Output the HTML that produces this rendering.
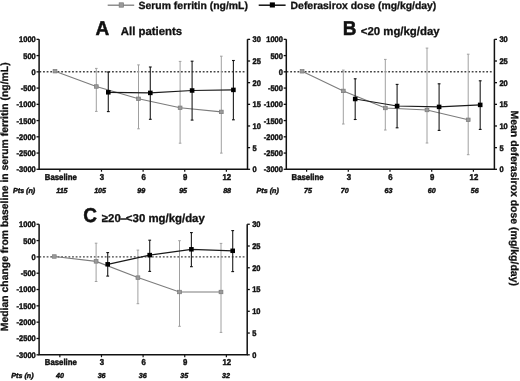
<!DOCTYPE html>
<html><head><meta charset="utf-8"><style>
html,body{margin:0;padding:0;background:#fff;}
svg{display:block;font-family:"Liberation Sans", sans-serif;will-change:transform;text-rendering:geometricPrecision;}
</style></head><body>
<svg width="520" height="381" viewBox="0 0 520 381">
<rect width="520" height="381" fill="#fff"/>
<g>
<line x1="36.5" y1="39.35" x2="39.1" y2="39.35" stroke="#111" stroke-width="1.3"/>
<text transform="translate(35.70,42.30) scale(0.92,1)" font-size="8.15" font-weight="bold" font-style="normal" text-anchor="end" fill="#111" stroke="#111" stroke-width="0.45">1000</text>
<line x1="36.5" y1="55.59" x2="39.1" y2="55.59" stroke="#111" stroke-width="1.3"/>
<text transform="translate(35.70,58.54) scale(0.92,1)" font-size="8.15" font-weight="bold" font-style="normal" text-anchor="end" fill="#111" stroke="#111" stroke-width="0.45">500</text>
<line x1="36.5" y1="71.84" x2="39.1" y2="71.84" stroke="#111" stroke-width="1.3"/>
<text transform="translate(35.70,74.79) scale(0.92,1)" font-size="8.15" font-weight="bold" font-style="normal" text-anchor="end" fill="#111" stroke="#111" stroke-width="0.45">0</text>
<line x1="36.5" y1="88.08" x2="39.1" y2="88.08" stroke="#111" stroke-width="1.3"/>
<text transform="translate(35.70,91.03) scale(0.92,1)" font-size="8.15" font-weight="bold" font-style="normal" text-anchor="end" fill="#111" stroke="#111" stroke-width="0.45">-500</text>
<line x1="36.5" y1="104.33" x2="39.1" y2="104.33" stroke="#111" stroke-width="1.3"/>
<text transform="translate(35.70,107.28) scale(0.92,1)" font-size="8.15" font-weight="bold" font-style="normal" text-anchor="end" fill="#111" stroke="#111" stroke-width="0.45">-1000</text>
<line x1="36.5" y1="120.57" x2="39.1" y2="120.57" stroke="#111" stroke-width="1.3"/>
<text transform="translate(35.70,123.52) scale(0.92,1)" font-size="8.15" font-weight="bold" font-style="normal" text-anchor="end" fill="#111" stroke="#111" stroke-width="0.45">-1500</text>
<line x1="36.5" y1="136.81" x2="39.1" y2="136.81" stroke="#111" stroke-width="1.3"/>
<text transform="translate(35.70,139.76) scale(0.92,1)" font-size="8.15" font-weight="bold" font-style="normal" text-anchor="end" fill="#111" stroke="#111" stroke-width="0.45">-2000</text>
<line x1="36.5" y1="153.06" x2="39.1" y2="153.06" stroke="#111" stroke-width="1.3"/>
<text transform="translate(35.70,156.01) scale(0.92,1)" font-size="8.15" font-weight="bold" font-style="normal" text-anchor="end" fill="#111" stroke="#111" stroke-width="0.45">-2500</text>
<line x1="36.5" y1="169.30" x2="39.1" y2="169.30" stroke="#111" stroke-width="1.3"/>
<text transform="translate(35.70,172.25) scale(0.92,1)" font-size="8.15" font-weight="bold" font-style="normal" text-anchor="end" fill="#111" stroke="#111" stroke-width="0.45">-3000</text>
<line x1="247.5" y1="39.35" x2="250.1" y2="39.35" stroke="#111" stroke-width="1.3"/>
<text transform="translate(252.50,42.30) scale(0.92,1)" font-size="8.15" font-weight="bold" font-style="normal" text-anchor="start" fill="#111" stroke="#111" stroke-width="0.45">30</text>
<line x1="247.5" y1="61.01" x2="250.1" y2="61.01" stroke="#111" stroke-width="1.3"/>
<text transform="translate(252.50,63.96) scale(0.92,1)" font-size="8.15" font-weight="bold" font-style="normal" text-anchor="start" fill="#111" stroke="#111" stroke-width="0.45">25</text>
<line x1="247.5" y1="82.67" x2="250.1" y2="82.67" stroke="#111" stroke-width="1.3"/>
<text transform="translate(252.50,85.62) scale(0.92,1)" font-size="8.15" font-weight="bold" font-style="normal" text-anchor="start" fill="#111" stroke="#111" stroke-width="0.45">20</text>
<line x1="247.5" y1="104.33" x2="250.1" y2="104.33" stroke="#111" stroke-width="1.3"/>
<text transform="translate(252.50,107.28) scale(0.92,1)" font-size="8.15" font-weight="bold" font-style="normal" text-anchor="start" fill="#111" stroke="#111" stroke-width="0.45">15</text>
<line x1="247.5" y1="125.98" x2="250.1" y2="125.98" stroke="#111" stroke-width="1.3"/>
<text transform="translate(252.50,128.93) scale(0.92,1)" font-size="8.15" font-weight="bold" font-style="normal" text-anchor="start" fill="#111" stroke="#111" stroke-width="0.45">10</text>
<line x1="247.5" y1="147.64" x2="250.1" y2="147.64" stroke="#111" stroke-width="1.3"/>
<text transform="translate(252.50,150.59) scale(0.92,1)" font-size="8.15" font-weight="bold" font-style="normal" text-anchor="start" fill="#111" stroke="#111" stroke-width="0.45">5</text>
<line x1="247.5" y1="169.30" x2="250.1" y2="169.30" stroke="#111" stroke-width="1.3"/>
<text transform="translate(252.50,172.25) scale(0.92,1)" font-size="8.15" font-weight="bold" font-style="normal" text-anchor="start" fill="#111" stroke="#111" stroke-width="0.45">0</text>
<line x1="59.85" y1="169.3" x2="59.85" y2="171.70000000000002" stroke="#111" stroke-width="1.2"/>
<line x1="101.48" y1="169.3" x2="101.48" y2="171.70000000000002" stroke="#111" stroke-width="1.2"/>
<line x1="143.11" y1="169.3" x2="143.11" y2="171.70000000000002" stroke="#111" stroke-width="1.2"/>
<line x1="184.74" y1="169.3" x2="184.74" y2="171.70000000000002" stroke="#111" stroke-width="1.2"/>
<line x1="226.37" y1="169.3" x2="226.37" y2="171.70000000000002" stroke="#111" stroke-width="1.2"/>
<text transform="translate(60.85,179.90) scale(0.915,1)" font-size="8.5" font-weight="bold" font-style="normal" text-anchor="middle" fill="#111" stroke="#111" stroke-width="0.45">Baseline</text>
<text transform="translate(101.98,179.90) scale(0.915,1)" font-size="8.5" font-weight="bold" font-style="normal" text-anchor="middle" fill="#111" stroke="#111" stroke-width="0.45">3</text>
<text transform="translate(143.61,179.90) scale(0.915,1)" font-size="8.5" font-weight="bold" font-style="normal" text-anchor="middle" fill="#111" stroke="#111" stroke-width="0.45">6</text>
<text transform="translate(185.24,179.90) scale(0.915,1)" font-size="8.5" font-weight="bold" font-style="normal" text-anchor="middle" fill="#111" stroke="#111" stroke-width="0.45">9</text>
<text transform="translate(226.87,179.90) scale(0.915,1)" font-size="8.5" font-weight="bold" font-style="normal" text-anchor="middle" fill="#111" stroke="#111" stroke-width="0.45">12</text>
<text transform="translate(13.00,192.80) scale(1.0,1)" font-size="7.15" font-weight="bold" font-style="italic" text-anchor="start" fill="#111" stroke="#111" stroke-width="0.45">Pts (n)</text>
<text transform="translate(61.90,192.80) scale(1.0,1)" font-size="7.15" font-weight="bold" font-style="italic" text-anchor="middle" fill="#111" stroke="#111" stroke-width="0.45">115</text>
<text transform="translate(100.10,192.80) scale(1.0,1)" font-size="7.15" font-weight="bold" font-style="italic" text-anchor="middle" fill="#111" stroke="#111" stroke-width="0.45">105</text>
<text transform="translate(141.30,192.80) scale(1.0,1)" font-size="7.15" font-weight="bold" font-style="italic" text-anchor="middle" fill="#111" stroke="#111" stroke-width="0.45">99</text>
<text transform="translate(183.10,192.80) scale(1.0,1)" font-size="7.15" font-weight="bold" font-style="italic" text-anchor="middle" fill="#111" stroke="#111" stroke-width="0.45">95</text>
<text transform="translate(227.10,192.80) scale(1.0,1)" font-size="7.15" font-weight="bold" font-style="italic" text-anchor="middle" fill="#111" stroke="#111" stroke-width="0.45">88</text>
<line x1="39.4" y1="71.8" x2="246.0" y2="71.8" stroke="#444" stroke-width="1.4" stroke-dasharray="1.8 1.83"/>
<polyline points="55.0,71.2 96.3,86.5 138.5,98.8 180.1,107.8 221.3,111.9" fill="none" stroke="#7c7c7c" stroke-width="1.1"/>
<line x1="96.3" y1="68.4" x2="96.3" y2="111.4" stroke="#a0a0a0" stroke-width="1.0"/>
<line x1="95.0" y1="68.4" x2="97.6" y2="68.4" stroke="#a0a0a0" stroke-width="1"/>
<line x1="95.0" y1="111.4" x2="97.6" y2="111.4" stroke="#a0a0a0" stroke-width="1"/>
<line x1="138.5" y1="64.9" x2="138.5" y2="128.8" stroke="#a0a0a0" stroke-width="1.0"/>
<line x1="137.2" y1="64.9" x2="139.8" y2="64.9" stroke="#a0a0a0" stroke-width="1"/>
<line x1="137.2" y1="128.8" x2="139.8" y2="128.8" stroke="#a0a0a0" stroke-width="1"/>
<line x1="180.1" y1="61.4" x2="180.1" y2="143.2" stroke="#a0a0a0" stroke-width="1.0"/>
<line x1="178.79999999999998" y1="61.4" x2="181.4" y2="61.4" stroke="#a0a0a0" stroke-width="1"/>
<line x1="178.79999999999998" y1="143.2" x2="181.4" y2="143.2" stroke="#a0a0a0" stroke-width="1"/>
<line x1="221.3" y1="56.2" x2="221.3" y2="153.1" stroke="#a0a0a0" stroke-width="1.0"/>
<line x1="220.0" y1="56.2" x2="222.60000000000002" y2="56.2" stroke="#a0a0a0" stroke-width="1"/>
<line x1="220.0" y1="153.1" x2="222.60000000000002" y2="153.1" stroke="#a0a0a0" stroke-width="1"/>
<rect x="53.1" y="69.45" width="3.8" height="3.5" fill="#9a9a9a" stroke="#7a7a7a" stroke-width="0.7"/>
<rect x="94.39999999999999" y="84.75" width="3.8" height="3.5" fill="#9a9a9a" stroke="#7a7a7a" stroke-width="0.7"/>
<rect x="136.6" y="97.05" width="3.8" height="3.5" fill="#9a9a9a" stroke="#7a7a7a" stroke-width="0.7"/>
<rect x="178.2" y="106.05" width="3.8" height="3.5" fill="#9a9a9a" stroke="#7a7a7a" stroke-width="0.7"/>
<rect x="219.4" y="110.15" width="3.8" height="3.5" fill="#9a9a9a" stroke="#7a7a7a" stroke-width="0.7"/>
<polyline points="108.3,92.3 150.3,92.9 192.1,90.5 233.4,89.9" fill="none" stroke="#1a1a1a" stroke-width="1.2"/>
<line x1="108.3" y1="72.0" x2="108.3" y2="111.6" stroke="#262626" stroke-width="1.15"/>
<line x1="106.89999999999999" y1="72.0" x2="109.7" y2="72.0" stroke="#111" stroke-width="1.1"/>
<line x1="106.89999999999999" y1="111.6" x2="109.7" y2="111.6" stroke="#111" stroke-width="1.1"/>
<line x1="150.3" y1="67.0" x2="150.3" y2="119.3" stroke="#262626" stroke-width="1.15"/>
<line x1="148.9" y1="67.0" x2="151.70000000000002" y2="67.0" stroke="#111" stroke-width="1.1"/>
<line x1="148.9" y1="119.3" x2="151.70000000000002" y2="119.3" stroke="#111" stroke-width="1.1"/>
<line x1="192.1" y1="61.2" x2="192.1" y2="120.1" stroke="#262626" stroke-width="1.15"/>
<line x1="190.7" y1="61.2" x2="193.5" y2="61.2" stroke="#111" stroke-width="1.1"/>
<line x1="190.7" y1="120.1" x2="193.5" y2="120.1" stroke="#111" stroke-width="1.1"/>
<line x1="233.4" y1="60.5" x2="233.4" y2="119.8" stroke="#262626" stroke-width="1.15"/>
<line x1="232.0" y1="60.5" x2="234.8" y2="60.5" stroke="#111" stroke-width="1.1"/>
<line x1="232.0" y1="119.8" x2="234.8" y2="119.8" stroke="#111" stroke-width="1.1"/>
<rect x="106.0" y="90.05" width="4.6" height="4.5" fill="#000"/>
<rect x="148.0" y="90.65" width="4.6" height="4.5" fill="#000"/>
<rect x="189.79999999999998" y="88.25" width="4.6" height="4.5" fill="#000"/>
<rect x="231.1" y="87.65" width="4.6" height="4.5" fill="#000"/>
<polyline points="39.1,39.35 39.1,169.3 247.5,169.3 247.5,39.35" fill="none" stroke="#111" stroke-width="1.5"/>
<text transform="translate(95.6,34.6) scale(0.95,1)" font-size="20" font-weight="bold" fill="#111" stroke="#111" stroke-width="0.5">A</text>
<text x="120.8" y="34.6" font-size="11.4" font-weight="bold" font-style="normal" text-anchor="start" fill="#111" stroke="#111" stroke-width="0.3" >All patients</text>
<line x1="283.7" y1="39.35" x2="286.3" y2="39.35" stroke="#111" stroke-width="1.3"/>
<text transform="translate(282.90,42.30) scale(0.92,1)" font-size="8.15" font-weight="bold" font-style="normal" text-anchor="end" fill="#111" stroke="#111" stroke-width="0.45">1000</text>
<line x1="283.7" y1="55.59" x2="286.3" y2="55.59" stroke="#111" stroke-width="1.3"/>
<text transform="translate(282.90,58.54) scale(0.92,1)" font-size="8.15" font-weight="bold" font-style="normal" text-anchor="end" fill="#111" stroke="#111" stroke-width="0.45">500</text>
<line x1="283.7" y1="71.84" x2="286.3" y2="71.84" stroke="#111" stroke-width="1.3"/>
<text transform="translate(282.90,74.79) scale(0.92,1)" font-size="8.15" font-weight="bold" font-style="normal" text-anchor="end" fill="#111" stroke="#111" stroke-width="0.45">0</text>
<line x1="283.7" y1="88.08" x2="286.3" y2="88.08" stroke="#111" stroke-width="1.3"/>
<text transform="translate(282.90,91.03) scale(0.92,1)" font-size="8.15" font-weight="bold" font-style="normal" text-anchor="end" fill="#111" stroke="#111" stroke-width="0.45">-500</text>
<line x1="283.7" y1="104.33" x2="286.3" y2="104.33" stroke="#111" stroke-width="1.3"/>
<text transform="translate(282.90,107.28) scale(0.92,1)" font-size="8.15" font-weight="bold" font-style="normal" text-anchor="end" fill="#111" stroke="#111" stroke-width="0.45">-1000</text>
<line x1="283.7" y1="120.57" x2="286.3" y2="120.57" stroke="#111" stroke-width="1.3"/>
<text transform="translate(282.90,123.52) scale(0.92,1)" font-size="8.15" font-weight="bold" font-style="normal" text-anchor="end" fill="#111" stroke="#111" stroke-width="0.45">-1500</text>
<line x1="283.7" y1="136.81" x2="286.3" y2="136.81" stroke="#111" stroke-width="1.3"/>
<text transform="translate(282.90,139.76) scale(0.92,1)" font-size="8.15" font-weight="bold" font-style="normal" text-anchor="end" fill="#111" stroke="#111" stroke-width="0.45">-2000</text>
<line x1="283.7" y1="153.06" x2="286.3" y2="153.06" stroke="#111" stroke-width="1.3"/>
<text transform="translate(282.90,156.01) scale(0.92,1)" font-size="8.15" font-weight="bold" font-style="normal" text-anchor="end" fill="#111" stroke="#111" stroke-width="0.45">-2500</text>
<line x1="283.7" y1="169.30" x2="286.3" y2="169.30" stroke="#111" stroke-width="1.3"/>
<text transform="translate(282.90,172.25) scale(0.92,1)" font-size="8.15" font-weight="bold" font-style="normal" text-anchor="end" fill="#111" stroke="#111" stroke-width="0.45">-3000</text>
<line x1="494.4" y1="39.35" x2="497.0" y2="39.35" stroke="#111" stroke-width="1.3"/>
<text transform="translate(499.40,42.30) scale(0.92,1)" font-size="8.15" font-weight="bold" font-style="normal" text-anchor="start" fill="#111" stroke="#111" stroke-width="0.45">30</text>
<line x1="494.4" y1="61.01" x2="497.0" y2="61.01" stroke="#111" stroke-width="1.3"/>
<text transform="translate(499.40,63.96) scale(0.92,1)" font-size="8.15" font-weight="bold" font-style="normal" text-anchor="start" fill="#111" stroke="#111" stroke-width="0.45">25</text>
<line x1="494.4" y1="82.67" x2="497.0" y2="82.67" stroke="#111" stroke-width="1.3"/>
<text transform="translate(499.40,85.62) scale(0.92,1)" font-size="8.15" font-weight="bold" font-style="normal" text-anchor="start" fill="#111" stroke="#111" stroke-width="0.45">20</text>
<line x1="494.4" y1="104.33" x2="497.0" y2="104.33" stroke="#111" stroke-width="1.3"/>
<text transform="translate(499.40,107.28) scale(0.92,1)" font-size="8.15" font-weight="bold" font-style="normal" text-anchor="start" fill="#111" stroke="#111" stroke-width="0.45">15</text>
<line x1="494.4" y1="125.98" x2="497.0" y2="125.98" stroke="#111" stroke-width="1.3"/>
<text transform="translate(499.40,128.93) scale(0.92,1)" font-size="8.15" font-weight="bold" font-style="normal" text-anchor="start" fill="#111" stroke="#111" stroke-width="0.45">10</text>
<line x1="494.4" y1="147.64" x2="497.0" y2="147.64" stroke="#111" stroke-width="1.3"/>
<text transform="translate(499.40,150.59) scale(0.92,1)" font-size="8.15" font-weight="bold" font-style="normal" text-anchor="start" fill="#111" stroke="#111" stroke-width="0.45">5</text>
<line x1="494.4" y1="169.30" x2="497.0" y2="169.30" stroke="#111" stroke-width="1.3"/>
<text transform="translate(499.40,172.25) scale(0.92,1)" font-size="8.15" font-weight="bold" font-style="normal" text-anchor="start" fill="#111" stroke="#111" stroke-width="0.45">0</text>
<line x1="306.6" y1="169.3" x2="306.6" y2="171.70000000000002" stroke="#111" stroke-width="1.2"/>
<line x1="348.3" y1="169.3" x2="348.3" y2="171.70000000000002" stroke="#111" stroke-width="1.2"/>
<line x1="390.0" y1="169.3" x2="390.0" y2="171.70000000000002" stroke="#111" stroke-width="1.2"/>
<line x1="431.7" y1="169.3" x2="431.7" y2="171.70000000000002" stroke="#111" stroke-width="1.2"/>
<line x1="473.4" y1="169.3" x2="473.4" y2="171.70000000000002" stroke="#111" stroke-width="1.2"/>
<text transform="translate(307.60,179.90) scale(0.915,1)" font-size="8.5" font-weight="bold" font-style="normal" text-anchor="middle" fill="#111" stroke="#111" stroke-width="0.45">Baseline</text>
<text transform="translate(348.80,179.90) scale(0.915,1)" font-size="8.5" font-weight="bold" font-style="normal" text-anchor="middle" fill="#111" stroke="#111" stroke-width="0.45">3</text>
<text transform="translate(390.50,179.90) scale(0.915,1)" font-size="8.5" font-weight="bold" font-style="normal" text-anchor="middle" fill="#111" stroke="#111" stroke-width="0.45">6</text>
<text transform="translate(432.20,179.90) scale(0.915,1)" font-size="8.5" font-weight="bold" font-style="normal" text-anchor="middle" fill="#111" stroke="#111" stroke-width="0.45">9</text>
<text transform="translate(473.90,179.90) scale(0.915,1)" font-size="8.5" font-weight="bold" font-style="normal" text-anchor="middle" fill="#111" stroke="#111" stroke-width="0.45">12</text>
<text transform="translate(256.60,192.80) scale(1.0,1)" font-size="7.15" font-weight="bold" font-style="italic" text-anchor="start" fill="#111" stroke="#111" stroke-width="0.45">Pts (n)</text>
<text transform="translate(307.90,192.80) scale(1.0,1)" font-size="7.15" font-weight="bold" font-style="italic" text-anchor="middle" fill="#111" stroke="#111" stroke-width="0.45">75</text>
<text transform="translate(344.70,192.80) scale(1.0,1)" font-size="7.15" font-weight="bold" font-style="italic" text-anchor="middle" fill="#111" stroke="#111" stroke-width="0.45">70</text>
<text transform="translate(388.40,192.80) scale(1.0,1)" font-size="7.15" font-weight="bold" font-style="italic" text-anchor="middle" fill="#111" stroke="#111" stroke-width="0.45">63</text>
<text transform="translate(431.70,192.80) scale(1.0,1)" font-size="7.15" font-weight="bold" font-style="italic" text-anchor="middle" fill="#111" stroke="#111" stroke-width="0.45">60</text>
<text transform="translate(474.80,192.80) scale(1.0,1)" font-size="7.15" font-weight="bold" font-style="italic" text-anchor="middle" fill="#111" stroke="#111" stroke-width="0.45">56</text>
<line x1="286.6" y1="71.8" x2="492.9" y2="71.8" stroke="#444" stroke-width="1.4" stroke-dasharray="1.8 1.83"/>
<polyline points="302.1,71.3 343.3,90.9 385.3,108.0 427.0,110.0 468.2,119.8" fill="none" stroke="#7c7c7c" stroke-width="1.1"/>
<line x1="343.3" y1="70.1" x2="343.3" y2="124.0" stroke="#a0a0a0" stroke-width="1.0"/>
<line x1="342.0" y1="70.1" x2="344.6" y2="70.1" stroke="#a0a0a0" stroke-width="1"/>
<line x1="342.0" y1="124.0" x2="344.6" y2="124.0" stroke="#a0a0a0" stroke-width="1"/>
<line x1="385.3" y1="59.4" x2="385.3" y2="130.0" stroke="#a0a0a0" stroke-width="1.0"/>
<line x1="384.0" y1="59.4" x2="386.6" y2="59.4" stroke="#a0a0a0" stroke-width="1"/>
<line x1="384.0" y1="130.0" x2="386.6" y2="130.0" stroke="#a0a0a0" stroke-width="1"/>
<line x1="427.0" y1="48.1" x2="427.0" y2="143.0" stroke="#a0a0a0" stroke-width="1.0"/>
<line x1="425.7" y1="48.1" x2="428.3" y2="48.1" stroke="#a0a0a0" stroke-width="1"/>
<line x1="425.7" y1="143.0" x2="428.3" y2="143.0" stroke="#a0a0a0" stroke-width="1"/>
<line x1="468.2" y1="54.2" x2="468.2" y2="154.7" stroke="#a0a0a0" stroke-width="1.0"/>
<line x1="466.9" y1="54.2" x2="469.5" y2="54.2" stroke="#a0a0a0" stroke-width="1"/>
<line x1="466.9" y1="154.7" x2="469.5" y2="154.7" stroke="#a0a0a0" stroke-width="1"/>
<rect x="300.20000000000005" y="69.55" width="3.8" height="3.5" fill="#9a9a9a" stroke="#7a7a7a" stroke-width="0.7"/>
<rect x="341.40000000000003" y="89.15" width="3.8" height="3.5" fill="#9a9a9a" stroke="#7a7a7a" stroke-width="0.7"/>
<rect x="383.40000000000003" y="106.25" width="3.8" height="3.5" fill="#9a9a9a" stroke="#7a7a7a" stroke-width="0.7"/>
<rect x="425.1" y="108.25" width="3.8" height="3.5" fill="#9a9a9a" stroke="#7a7a7a" stroke-width="0.7"/>
<rect x="466.3" y="118.05" width="3.8" height="3.5" fill="#9a9a9a" stroke="#7a7a7a" stroke-width="0.7"/>
<polyline points="355.2,99.0 397.1,106.0 439.1,106.9 480.2,104.9" fill="none" stroke="#1a1a1a" stroke-width="1.2"/>
<line x1="355.2" y1="78.8" x2="355.2" y2="119.5" stroke="#262626" stroke-width="1.15"/>
<line x1="353.8" y1="78.8" x2="356.59999999999997" y2="78.8" stroke="#111" stroke-width="1.1"/>
<line x1="353.8" y1="119.5" x2="356.59999999999997" y2="119.5" stroke="#111" stroke-width="1.1"/>
<line x1="397.1" y1="84.4" x2="397.1" y2="127.8" stroke="#262626" stroke-width="1.15"/>
<line x1="395.70000000000005" y1="84.4" x2="398.5" y2="84.4" stroke="#111" stroke-width="1.1"/>
<line x1="395.70000000000005" y1="127.8" x2="398.5" y2="127.8" stroke="#111" stroke-width="1.1"/>
<line x1="439.1" y1="83.8" x2="439.1" y2="130.4" stroke="#262626" stroke-width="1.15"/>
<line x1="437.70000000000005" y1="83.8" x2="440.5" y2="83.8" stroke="#111" stroke-width="1.1"/>
<line x1="437.70000000000005" y1="130.4" x2="440.5" y2="130.4" stroke="#111" stroke-width="1.1"/>
<line x1="480.2" y1="80.8" x2="480.2" y2="129.4" stroke="#262626" stroke-width="1.15"/>
<line x1="478.8" y1="80.8" x2="481.59999999999997" y2="80.8" stroke="#111" stroke-width="1.1"/>
<line x1="478.8" y1="129.4" x2="481.59999999999997" y2="129.4" stroke="#111" stroke-width="1.1"/>
<rect x="352.9" y="96.75" width="4.6" height="4.5" fill="#000"/>
<rect x="394.8" y="103.75" width="4.6" height="4.5" fill="#000"/>
<rect x="436.8" y="104.65" width="4.6" height="4.5" fill="#000"/>
<rect x="477.9" y="102.65" width="4.6" height="4.5" fill="#000"/>
<polyline points="286.3,39.35 286.3,169.3 494.4,169.3 494.4,39.35" fill="none" stroke="#111" stroke-width="1.5"/>
<text transform="translate(342.8,34.6) scale(0.95,1)" font-size="20" font-weight="bold" fill="#111" stroke="#111" stroke-width="0.5">B</text>
<text x="360.8" y="34.6" font-size="11.4" font-weight="bold" font-style="normal" text-anchor="start" fill="#111" stroke="#111" stroke-width="0.3" >&lt;20 mg/kg/day</text>
<line x1="36.5" y1="224.25" x2="39.1" y2="224.25" stroke="#111" stroke-width="1.3"/>
<text transform="translate(35.70,227.20) scale(0.92,1)" font-size="8.15" font-weight="bold" font-style="normal" text-anchor="end" fill="#111" stroke="#111" stroke-width="0.45">1000</text>
<line x1="36.5" y1="240.57" x2="39.1" y2="240.57" stroke="#111" stroke-width="1.3"/>
<text transform="translate(35.70,243.52) scale(0.92,1)" font-size="8.15" font-weight="bold" font-style="normal" text-anchor="end" fill="#111" stroke="#111" stroke-width="0.45">500</text>
<line x1="36.5" y1="256.89" x2="39.1" y2="256.89" stroke="#111" stroke-width="1.3"/>
<text transform="translate(35.70,259.84) scale(0.92,1)" font-size="8.15" font-weight="bold" font-style="normal" text-anchor="end" fill="#111" stroke="#111" stroke-width="0.45">0</text>
<line x1="36.5" y1="273.21" x2="39.1" y2="273.21" stroke="#111" stroke-width="1.3"/>
<text transform="translate(35.70,276.16) scale(0.92,1)" font-size="8.15" font-weight="bold" font-style="normal" text-anchor="end" fill="#111" stroke="#111" stroke-width="0.45">-500</text>
<line x1="36.5" y1="289.52" x2="39.1" y2="289.52" stroke="#111" stroke-width="1.3"/>
<text transform="translate(35.70,292.47) scale(0.92,1)" font-size="8.15" font-weight="bold" font-style="normal" text-anchor="end" fill="#111" stroke="#111" stroke-width="0.45">-1000</text>
<line x1="36.5" y1="305.84" x2="39.1" y2="305.84" stroke="#111" stroke-width="1.3"/>
<text transform="translate(35.70,308.79) scale(0.92,1)" font-size="8.15" font-weight="bold" font-style="normal" text-anchor="end" fill="#111" stroke="#111" stroke-width="0.45">-1500</text>
<line x1="36.5" y1="322.16" x2="39.1" y2="322.16" stroke="#111" stroke-width="1.3"/>
<text transform="translate(35.70,325.11) scale(0.92,1)" font-size="8.15" font-weight="bold" font-style="normal" text-anchor="end" fill="#111" stroke="#111" stroke-width="0.45">-2000</text>
<line x1="36.5" y1="338.48" x2="39.1" y2="338.48" stroke="#111" stroke-width="1.3"/>
<text transform="translate(35.70,341.43) scale(0.92,1)" font-size="8.15" font-weight="bold" font-style="normal" text-anchor="end" fill="#111" stroke="#111" stroke-width="0.45">-2500</text>
<line x1="36.5" y1="354.80" x2="39.1" y2="354.80" stroke="#111" stroke-width="1.3"/>
<text transform="translate(35.70,357.75) scale(0.92,1)" font-size="8.15" font-weight="bold" font-style="normal" text-anchor="end" fill="#111" stroke="#111" stroke-width="0.45">-3000</text>
<line x1="247.2" y1="224.25" x2="249.79999999999998" y2="224.25" stroke="#111" stroke-width="1.3"/>
<text transform="translate(252.20,227.20) scale(0.92,1)" font-size="8.15" font-weight="bold" font-style="normal" text-anchor="start" fill="#111" stroke="#111" stroke-width="0.45">30</text>
<line x1="247.2" y1="246.01" x2="249.79999999999998" y2="246.01" stroke="#111" stroke-width="1.3"/>
<text transform="translate(252.20,248.96) scale(0.92,1)" font-size="8.15" font-weight="bold" font-style="normal" text-anchor="start" fill="#111" stroke="#111" stroke-width="0.45">25</text>
<line x1="247.2" y1="267.77" x2="249.79999999999998" y2="267.77" stroke="#111" stroke-width="1.3"/>
<text transform="translate(252.20,270.72) scale(0.92,1)" font-size="8.15" font-weight="bold" font-style="normal" text-anchor="start" fill="#111" stroke="#111" stroke-width="0.45">20</text>
<line x1="247.2" y1="289.52" x2="249.79999999999998" y2="289.52" stroke="#111" stroke-width="1.3"/>
<text transform="translate(252.20,292.47) scale(0.92,1)" font-size="8.15" font-weight="bold" font-style="normal" text-anchor="start" fill="#111" stroke="#111" stroke-width="0.45">15</text>
<line x1="247.2" y1="311.28" x2="249.79999999999998" y2="311.28" stroke="#111" stroke-width="1.3"/>
<text transform="translate(252.20,314.23) scale(0.92,1)" font-size="8.15" font-weight="bold" font-style="normal" text-anchor="start" fill="#111" stroke="#111" stroke-width="0.45">10</text>
<line x1="247.2" y1="333.04" x2="249.79999999999998" y2="333.04" stroke="#111" stroke-width="1.3"/>
<text transform="translate(252.20,335.99) scale(0.92,1)" font-size="8.15" font-weight="bold" font-style="normal" text-anchor="start" fill="#111" stroke="#111" stroke-width="0.45">5</text>
<line x1="247.2" y1="354.80" x2="249.79999999999998" y2="354.80" stroke="#111" stroke-width="1.3"/>
<text transform="translate(252.20,357.75) scale(0.92,1)" font-size="8.15" font-weight="bold" font-style="normal" text-anchor="start" fill="#111" stroke="#111" stroke-width="0.45">0</text>
<line x1="59.85" y1="354.8" x2="59.85" y2="357.2" stroke="#111" stroke-width="1.2"/>
<line x1="101.48" y1="354.8" x2="101.48" y2="357.2" stroke="#111" stroke-width="1.2"/>
<line x1="143.11" y1="354.8" x2="143.11" y2="357.2" stroke="#111" stroke-width="1.2"/>
<line x1="184.74" y1="354.8" x2="184.74" y2="357.2" stroke="#111" stroke-width="1.2"/>
<line x1="226.37" y1="354.8" x2="226.37" y2="357.2" stroke="#111" stroke-width="1.2"/>
<text transform="translate(60.85,365.40) scale(0.915,1)" font-size="8.5" font-weight="bold" font-style="normal" text-anchor="middle" fill="#111" stroke="#111" stroke-width="0.45">Baseline</text>
<text transform="translate(101.98,365.40) scale(0.915,1)" font-size="8.5" font-weight="bold" font-style="normal" text-anchor="middle" fill="#111" stroke="#111" stroke-width="0.45">3</text>
<text transform="translate(143.61,365.40) scale(0.915,1)" font-size="8.5" font-weight="bold" font-style="normal" text-anchor="middle" fill="#111" stroke="#111" stroke-width="0.45">6</text>
<text transform="translate(185.24,365.40) scale(0.915,1)" font-size="8.5" font-weight="bold" font-style="normal" text-anchor="middle" fill="#111" stroke="#111" stroke-width="0.45">9</text>
<text transform="translate(226.87,365.40) scale(0.915,1)" font-size="8.5" font-weight="bold" font-style="normal" text-anchor="middle" fill="#111" stroke="#111" stroke-width="0.45">12</text>
<text transform="translate(11.30,378.30) scale(1.0,1)" font-size="7.15" font-weight="bold" font-style="italic" text-anchor="start" fill="#111" stroke="#111" stroke-width="0.45">Pts (n)</text>
<text transform="translate(59.90,378.30) scale(1.0,1)" font-size="7.15" font-weight="bold" font-style="italic" text-anchor="middle" fill="#111" stroke="#111" stroke-width="0.45">40</text>
<text transform="translate(101.60,378.30) scale(1.0,1)" font-size="7.15" font-weight="bold" font-style="italic" text-anchor="middle" fill="#111" stroke="#111" stroke-width="0.45">36</text>
<text transform="translate(142.80,378.30) scale(1.0,1)" font-size="7.15" font-weight="bold" font-style="italic" text-anchor="middle" fill="#111" stroke="#111" stroke-width="0.45">36</text>
<text transform="translate(184.20,378.30) scale(1.0,1)" font-size="7.15" font-weight="bold" font-style="italic" text-anchor="middle" fill="#111" stroke="#111" stroke-width="0.45">35</text>
<text transform="translate(226.00,378.30) scale(1.0,1)" font-size="7.15" font-weight="bold" font-style="italic" text-anchor="middle" fill="#111" stroke="#111" stroke-width="0.45">32</text>
<line x1="39.4" y1="256.85" x2="245.7" y2="256.85" stroke="#444" stroke-width="1.4" stroke-dasharray="1.8 1.83"/>
<polyline points="54.3,256.5 96.1,261.4 137.9,277.6 179.5,292.0 221.0,292.0" fill="none" stroke="#7c7c7c" stroke-width="1.1"/>
<line x1="96.1" y1="243.2" x2="96.1" y2="281.5" stroke="#a0a0a0" stroke-width="1.0"/>
<line x1="94.8" y1="243.2" x2="97.39999999999999" y2="243.2" stroke="#a0a0a0" stroke-width="1"/>
<line x1="94.8" y1="281.5" x2="97.39999999999999" y2="281.5" stroke="#a0a0a0" stroke-width="1"/>
<line x1="137.9" y1="250.1" x2="137.9" y2="303.7" stroke="#a0a0a0" stroke-width="1.0"/>
<line x1="136.6" y1="250.1" x2="139.20000000000002" y2="250.1" stroke="#a0a0a0" stroke-width="1"/>
<line x1="136.6" y1="303.7" x2="139.20000000000002" y2="303.7" stroke="#a0a0a0" stroke-width="1"/>
<line x1="179.5" y1="240.7" x2="179.5" y2="326.3" stroke="#a0a0a0" stroke-width="1.0"/>
<line x1="178.2" y1="240.7" x2="180.8" y2="240.7" stroke="#a0a0a0" stroke-width="1"/>
<line x1="178.2" y1="326.3" x2="180.8" y2="326.3" stroke="#a0a0a0" stroke-width="1"/>
<line x1="221.0" y1="243.4" x2="221.0" y2="332.4" stroke="#a0a0a0" stroke-width="1.0"/>
<line x1="219.7" y1="243.4" x2="222.3" y2="243.4" stroke="#a0a0a0" stroke-width="1"/>
<line x1="219.7" y1="332.4" x2="222.3" y2="332.4" stroke="#a0a0a0" stroke-width="1"/>
<rect x="52.4" y="254.75" width="3.8" height="3.5" fill="#9a9a9a" stroke="#7a7a7a" stroke-width="0.7"/>
<rect x="94.19999999999999" y="259.65" width="3.8" height="3.5" fill="#9a9a9a" stroke="#7a7a7a" stroke-width="0.7"/>
<rect x="136.0" y="275.85" width="3.8" height="3.5" fill="#9a9a9a" stroke="#7a7a7a" stroke-width="0.7"/>
<rect x="177.6" y="290.25" width="3.8" height="3.5" fill="#9a9a9a" stroke="#7a7a7a" stroke-width="0.7"/>
<rect x="219.1" y="290.25" width="3.8" height="3.5" fill="#9a9a9a" stroke="#7a7a7a" stroke-width="0.7"/>
<polyline points="107.7,264.3 149.7,255.1 191.4,249.3 232.7,250.8" fill="none" stroke="#1a1a1a" stroke-width="1.2"/>
<line x1="107.7" y1="252.6" x2="107.7" y2="276.1" stroke="#262626" stroke-width="1.15"/>
<line x1="106.3" y1="252.6" x2="109.10000000000001" y2="252.6" stroke="#111" stroke-width="1.1"/>
<line x1="106.3" y1="276.1" x2="109.10000000000001" y2="276.1" stroke="#111" stroke-width="1.1"/>
<line x1="149.7" y1="240.2" x2="149.7" y2="271.4" stroke="#262626" stroke-width="1.15"/>
<line x1="148.29999999999998" y1="240.2" x2="151.1" y2="240.2" stroke="#111" stroke-width="1.1"/>
<line x1="148.29999999999998" y1="271.4" x2="151.1" y2="271.4" stroke="#111" stroke-width="1.1"/>
<line x1="191.4" y1="232.6" x2="191.4" y2="266.7" stroke="#262626" stroke-width="1.15"/>
<line x1="190.0" y1="232.6" x2="192.8" y2="232.6" stroke="#111" stroke-width="1.1"/>
<line x1="190.0" y1="266.7" x2="192.8" y2="266.7" stroke="#111" stroke-width="1.1"/>
<line x1="232.7" y1="230.6" x2="232.7" y2="271.6" stroke="#262626" stroke-width="1.15"/>
<line x1="231.29999999999998" y1="230.6" x2="234.1" y2="230.6" stroke="#111" stroke-width="1.1"/>
<line x1="231.29999999999998" y1="271.6" x2="234.1" y2="271.6" stroke="#111" stroke-width="1.1"/>
<rect x="105.4" y="262.05" width="4.6" height="4.5" fill="#000"/>
<rect x="147.39999999999998" y="252.85" width="4.6" height="4.5" fill="#000"/>
<rect x="189.1" y="247.05" width="4.6" height="4.5" fill="#000"/>
<rect x="230.39999999999998" y="248.55" width="4.6" height="4.5" fill="#000"/>
<polyline points="39.1,224.25 39.1,354.8 247.2,354.8 247.2,224.25" fill="none" stroke="#111" stroke-width="1.5"/>
<text transform="translate(83.2,221.5) scale(0.95,1)" font-size="20" font-weight="bold" fill="#111" stroke="#111" stroke-width="0.5">C</text>
<text x="101.8" y="221.5" font-size="11.4" font-weight="bold" font-style="normal" text-anchor="start" fill="#111" stroke="#111" stroke-width="0.3" >≥20<tspan dx="-0.4">–</tspan><tspan dx="-1.0">&lt;</tspan><tspan dx="0.3">30 mg/kg/day</tspan></text>
</g>
<line x1="107.7" y1="5.2" x2="134.2" y2="5.2" stroke="#7c7c7c" stroke-width="1.3"/>
<rect x="119.15" y="2.8" width="4.4" height="4.4" fill="#9a9a9a" stroke="#7a7a7a" stroke-width="0.7"/>
<text x="138.6" y="8.7" font-size="10.42" font-weight="bold" font-style="normal" text-anchor="start" fill="#111" stroke="#111" stroke-width="0.3" >Serum ferritin (ng/mL)</text>
<line x1="258.7" y1="5.2" x2="285.6" y2="5.2" stroke="#111" stroke-width="1.5"/>
<rect x="269.8" y="2.4" width="5.1" height="5.1" fill="#000"/>
<text x="290.6" y="8.7" font-size="10.42" font-weight="bold" font-style="normal" text-anchor="start" fill="#111" stroke="#111" stroke-width="0.3" >Deferasirox dose (mg/kg/day)</text>
<text transform="translate(8.4,331.2) rotate(-90)" font-size="10.42" font-weight="bold" fill="#111" stroke="#111" stroke-width="0.3">Median change from baseline in serum ferritin (ng/mL)</text>
<text transform="translate(510.7,110.4) rotate(90)" font-size="10.5" font-weight="bold" fill="#111" stroke="#111" stroke-width="0.3">Mean deferasirox dose (mg/kg/day)</text>
</svg>
</body></html>
